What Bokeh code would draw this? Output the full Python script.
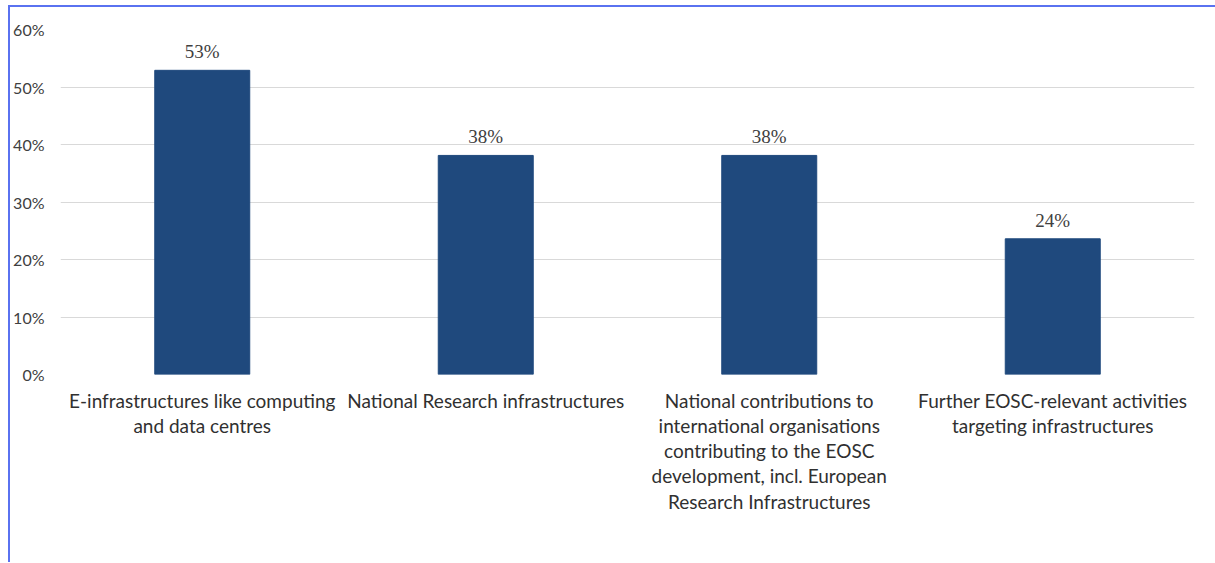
from bokeh.plotting import figure
from bokeh.models import ColumnDataSource, NumeralTickFormatter, FixedTicker, LabelSet
from bokeh.embed import file_html
from bokeh.resources import INLINE

categories = [
    "E-infrastructures like computing\nand data centres",
    "National Research infrastructures",
    "National contributions to\ninternational organisations\ncontributing to the EOSC\ndevelopment, incl. European\nResearch Infrastructures",
    "Further EOSC-relevant activities\ntargeting infrastructures",
]
values = [0.529, 0.381, 0.381, 0.236]
labels = [f"{round(v * 100)}%" for v in values]
y_ticks = [0, 0.1, 0.2, 0.3, 0.4, 0.5, 0.6]

FONT = "Lato"
TEXT = "#404040"

src = ColumnDataSource(dict(cat=categories, val=values, lab=labels))

p = figure(
    x_range=categories, y_range=(0, 0.6),
    frame_width=1134, frame_height=345, output_backend="svg", toolbar_location=None,
    min_border_left=47, min_border_right=22, min_border_top=22, min_border_bottom=188,
    styles={"border-left": "2px solid #5a72f0", "border-top": "2px solid #5a72f0",
            "margin-top": "5px", "margin-left": "8px"},
)
p.outline_line_color = None
p.vbar(x="cat", top="val", width=0.335, source=src, fill_color="#1f497d", line_color="#1f497d")

p.add_layout(LabelSet(x="cat", y="val", text="lab", source=src, text_align="center",
                      text_baseline="bottom", y_offset=8, text_font=FONT,
                      text_font_size="19px", text_color=TEXT))

p.yaxis.ticker = FixedTicker(ticks=y_ticks)
p.yaxis.formatter = NumeralTickFormatter(format="0%")
p.yaxis.axis_line_color = None
p.yaxis.major_tick_line_color = None
p.yaxis.major_tick_out = 0
p.yaxis.major_tick_in = 0
p.yaxis.minor_tick_line_color = None
p.yaxis.minor_tick_out = 0
p.yaxis.major_label_standoff = 16
p.yaxis.major_label_text_font = FONT
p.yaxis.major_label_text_font_size = "16px"
p.yaxis.major_label_text_color = TEXT

p.xaxis.axis_line_color = None
p.xaxis.major_tick_line_color = None
p.xaxis.major_tick_out = 0
p.xaxis.major_tick_in = 0
p.xaxis.major_label_standoff = 14
p.xaxis.major_label_text_font = FONT
p.xaxis.major_label_text_font_size = "19px"
p.xaxis.major_label_text_color = "#303030"
p.xaxis.major_label_text_line_height = 1.1

p.xgrid.grid_line_color = None
p.ygrid.grid_line_color = "#d9d9d9"
p.ygrid.grid_line_width = 1

open("out.html", "w").write(file_html(p, INLINE))
